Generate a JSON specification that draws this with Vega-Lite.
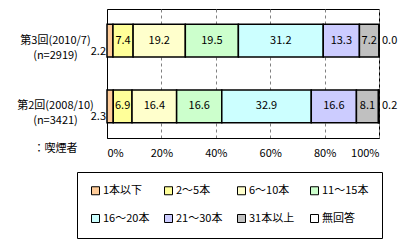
{
  "$schema": "https://vega.github.io/schema/vega-lite/v6.json",
  "autosize": {"type": "none"},
  "width": 272,
  "height": 129,
  "padding": {"left": 107, "top": 9, "right": 27, "bottom": 108},
  "background": "white",
  "config": {
    "font": "Noto Sans CJK JP",
    "view": {"stroke": "black", "strokeWidth": 1},
    "text": {"font": "Noto Sans CJK JP", "fontSize": 11, "color": "black"}
  },
  "data": {
    "values": [
      {"survey": "第3回(2010/7)|(n=2919)", "cat": "1本以下", "ord": 1, "value": 2.2},
      {"survey": "第3回(2010/7)|(n=2919)", "cat": "2～5本", "ord": 2, "value": 7.4},
      {"survey": "第3回(2010/7)|(n=2919)", "cat": "6～10本", "ord": 3, "value": 19.2},
      {"survey": "第3回(2010/7)|(n=2919)", "cat": "11～15本", "ord": 4, "value": 19.5},
      {"survey": "第3回(2010/7)|(n=2919)", "cat": "16～20本", "ord": 5, "value": 31.2},
      {"survey": "第3回(2010/7)|(n=2919)", "cat": "21～30本", "ord": 6, "value": 13.3},
      {"survey": "第3回(2010/7)|(n=2919)", "cat": "31本以上", "ord": 7, "value": 7.2},
      {"survey": "第3回(2010/7)|(n=2919)", "cat": "無回答", "ord": 8, "value": 0.0},
      {"survey": "第2回(2008/10)|(n=3421)", "cat": "1本以下", "ord": 1, "value": 2.3},
      {"survey": "第2回(2008/10)|(n=3421)", "cat": "2～5本", "ord": 2, "value": 6.9},
      {"survey": "第2回(2008/10)|(n=3421)", "cat": "6～10本", "ord": 3, "value": 16.4},
      {"survey": "第2回(2008/10)|(n=3421)", "cat": "11～15本", "ord": 4, "value": 16.6},
      {"survey": "第2回(2008/10)|(n=3421)", "cat": "16～20本", "ord": 5, "value": 32.9},
      {"survey": "第2回(2008/10)|(n=3421)", "cat": "21～30本", "ord": 6, "value": 16.6},
      {"survey": "第2回(2008/10)|(n=3421)", "cat": "31本以上", "ord": 7, "value": 8.1},
      {"survey": "第2回(2008/10)|(n=3421)", "cat": "無回答", "ord": 8, "value": 0.2}
    ]
  },
  "transform": [
    {"stack": "value", "groupby": ["survey"], "sort": [{"field": "ord", "order": "ascending"}], "as": ["x0", "x1"]},
    {"calculate": "(datum.x0 + datum.x1) / 2", "as": "mid"},
    {"calculate": "format(datum.value, '.1f')", "as": "lab"}
  ],
  "encoding": {
    "y": {
      "field": "survey",
      "type": "nominal",
      "sort": ["第3回(2010/7)|(n=2919)", "第2回(2008/10)|(n=3421)"],
      "scale": {"paddingInner": 0.5, "paddingOuter": 0.23},
      "axis": {
        "title": "：喫煙者",
        "titleAngle": 0,
        "titleX": -52,
        "titleY": 139,
        "titleAlign": "center",
        "titleBaseline": "middle",
        "titleFont": "Noto Sans CJK JP",
        "titleFontSize": 11,
        "titleFontWeight": "normal",
        "titleColor": "black",
        "labelExpr": "split(datum.value, '|')",
        "labelAlign": "center",
        "labelPadding": 52,
        "labelFont": "Noto Sans CJK JP",
        "labelFontSize": 11,
        "labelColor": "black",
        "labelLineHeight": 15,
        "ticks": false,
        "domain": true,
        "domainColor": "black",
        "grid": false,
        "encode": {"labels": {"update": {"align": {"value": "center"}}}}
      }
    }
  },
  "layer": [
    {
      "mark": {"type": "bar", "stroke": "black", "strokeWidth": 1.5},
      "encoding": {
        "x": {
          "field": "x0",
          "type": "quantitative",
          "scale": {"domain": [0, 100], "nice": false},
          "axis": {
            "values": [0, 20, 40, 60, 80, 100],
            "labelExpr": "datum.value + '%'",
            "labelFont": "Noto Sans CJK JP",
            "labelFontSize": 11,
            "labelColor": "black",
            "labelPadding": 9,
            "ticks": false,
            "domainColor": "black",
            "title": null,
            "grid": true,
            "gridColor": "#808080",
            "gridDash": [3, 3],
            "gridWidth": 1
          }
        },
        "x2": {"field": "x1"},
        "color": {
          "field": "cat",
          "type": "nominal",
          "scale": {
            "domain": ["1本以下", "2～5本", "6～10本", "11～15本", "16～20本", "21～30本", "31本以上", "無回答"],
            "range": ["#FFCC99", "#FFFF99", "#FFFFCC", "#CCFFCC", "#CCFFFF", "#CCCCFF", "#C0C0C0", "#FFFFFF"]
          },
          "legend": {
            "title": null,
            "orient": "none",
            "legendX": -30,
            "legendY": 163,
            "direction": "horizontal",
            "columns": 4,
            "gridAlign": "all",
            "columnPadding": 12,
            "rowPadding": 15,
            "padding": 13,
            "strokeColor": "black",
            "fillColor": "white",
            "symbolType": "square",
            "symbolSize": 64,
            "symbolStrokeColor": "black",
            "symbolStrokeWidth": 1,
            "symbolOffset": 0,
            "labelOffset": 2,
            "labelFont": "Noto Sans CJK JP",
            "labelFontSize": 11,
            "labelColor": "black"
          }
        }
      }
    },
    {
      "transform": [{"filter": "datum.ord >= 2 && datum.ord <= 7"}],
      "mark": {"type": "text", "align": "center", "baseline": "middle"},
      "encoding": {
        "x": {"field": "mid", "type": "quantitative"},
        "text": {"field": "lab"}
      }
    },
    {
      "transform": [{"filter": "datum.ord == 1"}],
      "mark": {"type": "text", "align": "right", "baseline": "middle", "dx": -1, "dy": 11},
      "encoding": {
        "x": {"field": "x0", "type": "quantitative"},
        "text": {"field": "lab"}
      }
    },
    {
      "transform": [{"filter": "datum.ord == 8"}],
      "mark": {"type": "text", "align": "left", "baseline": "middle", "dx": 3},
      "encoding": {
        "x": {"field": "x1", "type": "quantitative"},
        "text": {"field": "lab"}
      }
    }
  ]
}
